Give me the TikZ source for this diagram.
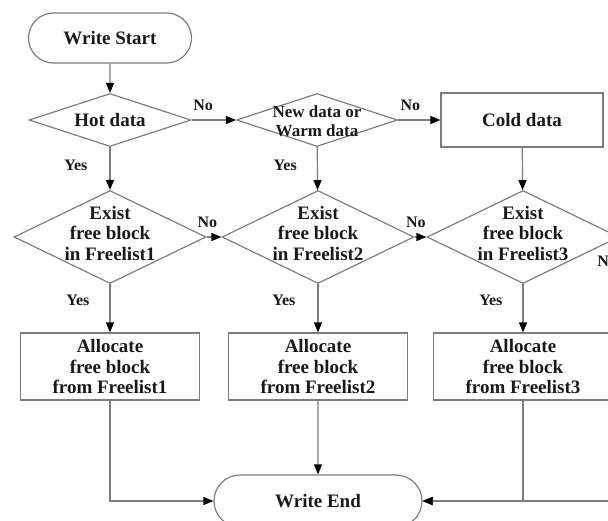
\documentclass[tikz,border=0pt]{standalone}
\usepackage{fontspec}
\setmainfont{Liberation Serif}
\usepackage{xcolor}
\usetikzlibrary{arrows.meta, shapes.geometric, shapes.misc}

\definecolor{linegray}{RGB}{125,125,125}
\definecolor{txtblack}{RGB}{25,25,25}

\begin{document}
\begin{tikzpicture}[
      x=1pt, y=-1pt,
      font=\fontsize{19}{20.5}\selectfont\bfseries,
      every label/.style={align=center, text=txtblack, inner sep=0pt},
      term/.style={rounded rectangle, draw=linegray, line width=1.2pt,
                   minimum width=#1, minimum height=50pt, inner sep=0pt, text=txtblack},
      box/.style={rectangle, draw=linegray, line width=1.2pt, align=center,
                  minimum width=179pt, minimum height=67pt, inner sep=0pt, text=txtblack},
      dec/.style={diamond, draw=linegray, line width=1.2pt, inner sep=0pt},
      bigdec/.style={dec, minimum width=192pt, minimum height=93pt},
      arr/.style={draw=linegray, line width=1.2pt, -{Triangle[length=10pt,width=8pt,color=black]}},
      conn/.style={draw=linegray, line width=1.2pt},
      lbl/.style={font=\fontsize{16}{18}\selectfont\bfseries, text=txtblack, inner sep=0pt}
    ]
    \useasboundingbox (0,0) rectangle (608,520);
    \clip (0,0) rectangle (608,520);

    % first row
    \node[term=163pt] (start) at (110,38) {Write Start};
    \node[dec, minimum width=162pt, minimum height=53pt,
          label={center:Hot data}] (hot) at (110,120) {};
    \node[dec, minimum width=161pt, minimum height=53pt,
          label={[font=\fontsize{17}{19}\selectfont\bfseries, yshift=-1pt]center:New data or\\Warm data}] (warm) at (317,120) {};
    \node[box, minimum width=162pt, minimum height=54pt] (cold) at (522,120) {Cold data};

    % free list checks
    \node[bigdec, label={[yshift=4pt]center:Exist\\free block\\in Freelist1}] (fl1) at (110,237) {};
    \node[bigdec, label={[yshift=4pt]center:Exist\\free block\\in Freelist2}] (fl2) at (318,237) {};
    \node[bigdec, label={[yshift=4pt]center:Exist\\free block\\in Freelist3}] (fl3) at (523,237) {};

    % allocation
    \node[box] (al1) at (110,366.5) {Allocate\\free block\\from Freelist1};
    \node[box] (al2) at (318,366.5) {Allocate\\free block\\from Freelist2};
    \node[box] (al3) at (523,366.5) {Allocate\\free block\\from Freelist3};

    \node[term=208pt, minimum height=52pt] (finish) at (318,501) {Write End};

    \draw[arr] (start) -- (hot);
    \draw[arr] (hot) -- node[lbl, pos=0.26, above=9pt] (nohot) {No} (warm);
    \draw[arr] (warm) -- node[lbl, pos=0.29, above=9pt] (nowarm) {No} (cold);
    \draw[arr] (hot) -- node[lbl, pos=0.43, left=22pt] (yeshot) {Yes} (fl1);
    \draw[arr] (warm) -- node[lbl, pos=0.43, left=20pt] (yeswarm) {Yes} (fl2);
    \draw[arr] (cold) -- (fl3);

    \draw[arr] (fl1) -- node[lbl, pos=0.05, above=9pt] (nofl1) {No} (fl2);
    \draw[arr] (fl2) -- node[lbl, pos=0.1, above=9pt] (nofl2) {No} (fl3);
    \draw[arr] (fl1) -- node[lbl, pos=0.34, left=20pt] (yesfl1) {Yes} (al1);
    \draw[arr] (fl2) -- node[lbl, pos=0.34, left=22pt] (yesfl2) {Yes} (al2);
    \draw[arr] (fl3) -- node[lbl, pos=0.34, left=20pt] (yesfl3) {Yes} (al3);
    \draw[arr] (fl3.east) -- node[lbl, pos=0, anchor=north east, xshift=-2pt, yshift=-18pt] (nofl3) {No}
      ++(30,0) |- (finish.east);

    \draw[arr] (al1.south) |- (finish.west);
    \draw[arr] (al2) -- (finish);
    \draw[arr] (al3.south) |- (finish.east);
  \end{tikzpicture}
\end{document}
